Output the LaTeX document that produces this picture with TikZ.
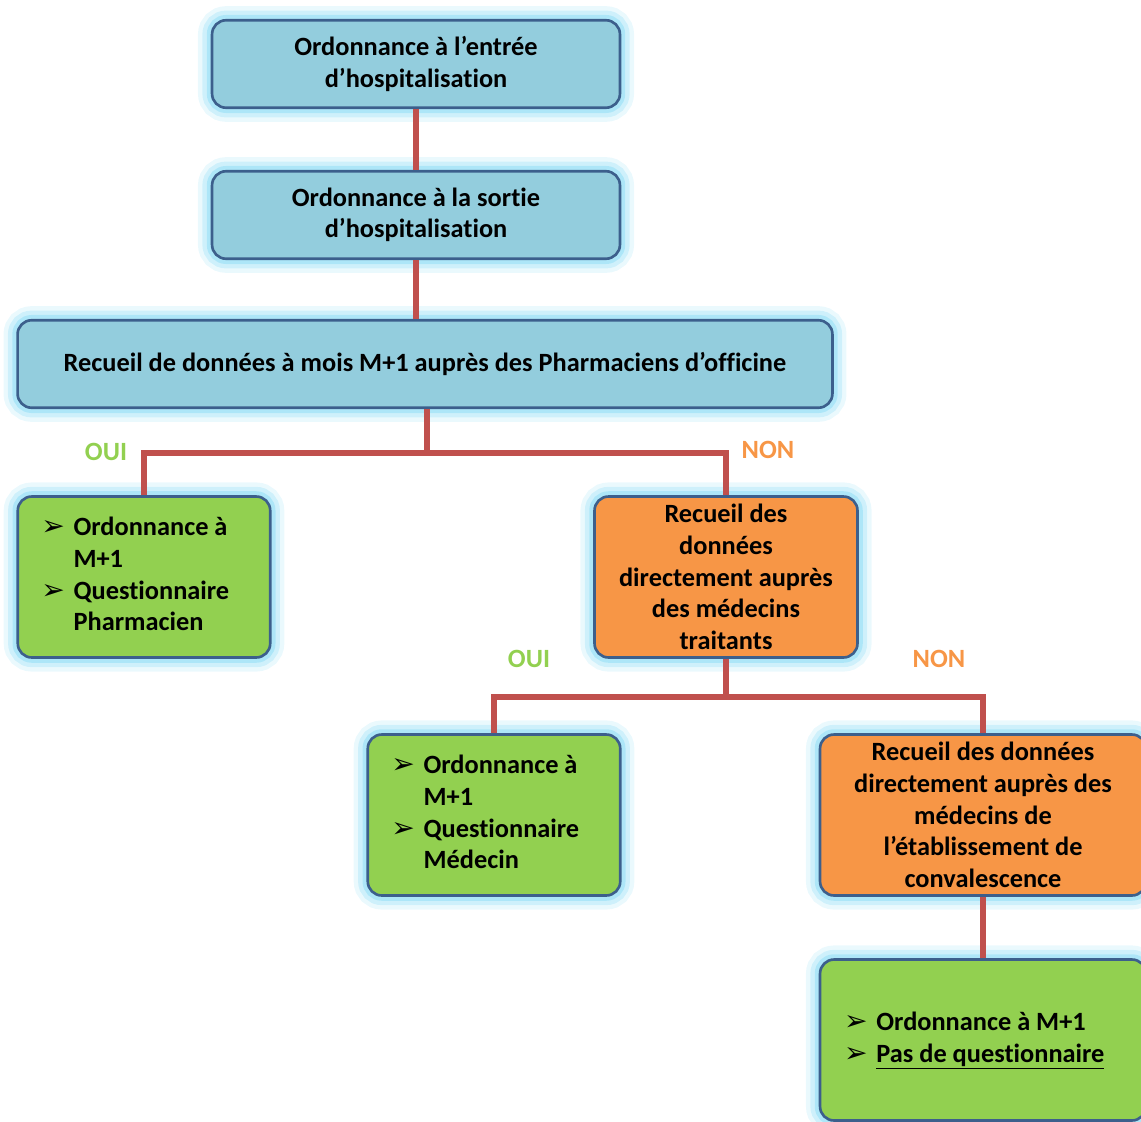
\documentclass[tikz,border=0pt]{standalone}
\usepackage{fontspec}
\setmainfont{Carlito}[Ligatures=NoCommon]
\newfontfamily\dejavu{DejaVu Sans}
\usetikzlibrary{positioning}

\definecolor{bleuboite}{HTML}{93CDDD}
\definecolor{bordure}{HTML}{3C5F8C}
\definecolor{vertboite}{HTML}{92D050}
\definecolor{orangeboite}{HTML}{F79646}
\definecolor{rouge}{HTML}{C0504D}
\definecolor{halo}{HTML}{98E0F6}

\newcommand\puce{{\dejavu\fontsize{16}{18}\selectfont ➢}}

\begin{document}
\begin{tikzpicture}[x=0.02cm,y=-0.02cm,
		every node/.style={font=\bfseries\fontsize{15}{18}\selectfont},
		boite/.style={rectangle,rounded corners=8pt,draw=bordure,line width=1.5pt,align=center,inner sep=0pt,
			preaction={draw=halo,line width=16pt,opacity=0.2},
			preaction={draw=halo,line width=11pt,opacity=0.35},
			preaction={draw=halo,line width=6pt,opacity=0.6}},
		bleue/.style={boite,fill=bleuboite,minimum height=1.75cm},
		verte/.style={boite,fill=vertboite,minimum width=5.05cm,minimum height=3.22cm},
		orangee/.style={boite,fill=orangeboite,minimum height=3.22cm},
		lien/.style={draw=rouge,line width=3.2pt},
		etiq/.style={inner sep=1pt}]
			\useasboundingbox (0,0) rectangle (1141,1121);
			
			\node[bleue,minimum width=8.16cm] (b1) at (416,64) {Ordonnance à l’entrée\\d’hospitalisation};
			\node[bleue,minimum width=8.16cm] (b2) at (416,215) {Ordonnance à la sortie\\d’hospitalisation};
			\node[bleue,minimum width=16.3cm] (b3) at (425,364) {Recueil de données à mois M+1 auprès des Pharmaciens d’officine};
			
			\node[verte] (g1) at (144,577) {\begin{tabular}{@{}l@{\hspace{5pt}}l@{}}
					\puce & Ordonnance à\\ & M+1\\ \puce & Questionnaire\\ & Pharmacien\end{tabular}\hspace{10pt}};
			\node[orangee,minimum width=5.26cm] (o1) at (726,577) {Recueil des\\données\\directement auprès\\des médecins\\traitants};
			
			\node[verte] (g2) at (494,815) {\begin{tabular}{@{}l@{\hspace{5pt}}l@{}}
					\puce & Ordonnance à\\ & M+1\\ \puce & Questionnaire\\ & Médecin\end{tabular}\hspace{10pt}};
			\node[orangee,minimum width=6.52cm] (o2) at (983,815) {Recueil des données\\directement auprès des\\médecins de\\l’établissement de\\convalescence};
			
			\node[verte,minimum width=6.52cm] (g3) at (983,1040) {\begin{tabular}{@{}l@{\hspace{5pt}}l@{}}
					\puce & Ordonnance à M+1\\ \puce & \underline{Pas de questionnaire}\end{tabular}\hspace{10pt}};
			
			% liaisons
			\coordinate (j1) at (427,453);
			\coordinate (j2) at (726,697);
			\draw[lien] (b1.south) -- (b2.north);
			\draw[lien] (b2.south) -- (b2.south |- b3.north);
			\draw[lien] (b3.south -| j1) -- (j1) -| (g1.north);
			\draw[lien] (j1) -| (o1.north);
			\draw[lien] (o1.south) -- (j2) -| (g2.north);
			\draw[lien] (j2) -| (o2.north);
			\draw[lien] (o2.south) -- (g3.north);
			
			\node[etiq,text=vertboite] (oui1) at (106,452) {OUI};
			\node[etiq,text=orangeboite] (non1) at (768,450) {NON};
			\node[etiq,text=vertboite] (oui2) at (529,659) {OUI};
			\node[etiq,text=orangeboite] (non2) at (939,659) {NON};
		\end{tikzpicture}
\end{document}
